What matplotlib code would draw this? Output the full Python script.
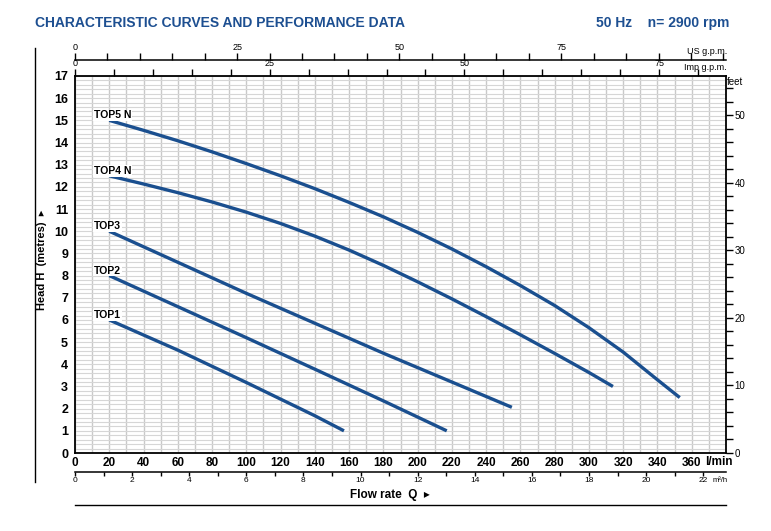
import numpy as np
import matplotlib
matplotlib.use('Agg')
import matplotlib.pyplot as plt
from matplotlib.lines import Line2D
from matplotlib.ticker import MultipleLocator, FixedLocator

plt.rcParams['font.family'] = ['Liberation Sans', 'DejaVu Sans']

# pump curves: flow in l/min, head in metres
top1_q = [20, 60, 100, 140, 157]
top1_h = [6.0, 4.64, 3.18, 1.68, 1.0]

top2_q = [20, 60, 100, 140, 180, 217]
top2_h = [8.0, 6.6, 5.2, 3.78, 2.35, 1.0]

top3_q = [20, 60, 100, 140, 180, 220, 255]
top3_h = [10.0, 8.6, 7.2, 5.85, 4.5, 3.2, 2.06]

top4_q = [20, 40, 60, 80, 100, 120, 140, 160, 180, 200, 220, 240, 260, 280, 300, 314]
top4_h = [12.5, 12.13, 11.74, 11.32, 10.86, 10.35, 9.78, 9.15, 8.46, 7.72, 6.95, 6.15,
          5.33, 4.49, 3.63, 3.0]

top5_q = [20, 40, 60, 80, 100, 120, 140, 160, 180, 200, 220, 240, 260, 280, 300, 320, 340, 353]
top5_h = [15.0, 14.55, 14.08, 13.58, 13.05, 12.5, 11.92, 11.3, 10.65, 9.95, 9.2, 8.4,
          7.55, 6.65, 5.65, 4.55, 3.3, 2.5]

curves = [('TOP1', top1_q, top1_h), ('TOP2', top2_q, top2_h), ('TOP3', top3_q, top3_h),
          ('TOP4 N', top4_q, top4_h), ('TOP5 N', top5_q, top5_h)]

blue = '#1a4f8f'
title_blue = '#1d4f91'
W, H = 771, 531

fig = plt.figure(figsize=(W / 100, H / 100), dpi=100)

def fx(px):
    return px / W

def fy(py):
    return 1 - py / H

# main plot area
ax = fig.add_axes([fx(75), fy(453), fx(726) - fx(75), fy(76) - fy(453)])
ax.set_xlim(0, 380)
ax.set_ylim(0, 17)
ax.xaxis.set_major_locator(FixedLocator(np.arange(0, 361, 20)))
ax.xaxis.set_minor_locator(MultipleLocator(10))
ax.yaxis.set_major_locator(MultipleLocator(1))
ax.yaxis.set_minor_locator(MultipleLocator(0.2))
ax.grid(True, which='both', axis='x', color='#c9c9c9', lw=1.0)
ax.grid(True, which='both', axis='y', color='#d6d6d6', lw=0.8)
ax.set_axisbelow(True)
ax.tick_params(which='both', length=0)
ax.tick_params(axis='x', labelsize=8.5, pad=3)
ax.tick_params(axis='y', labelsize=9, pad=5)
for lab in ax.get_xticklabels() + ax.get_yticklabels():
    lab.set_fontweight('bold')
for s in ax.spines.values():
    s.set_linewidth(1.3)

for name, q, h in curves:
    ax.plot(q, h, color=blue, lw=2.4, solid_capstyle='butt', solid_joinstyle='round', zorder=3)
    ax.text(11, h[0] + 0.22, name, fontsize=7.5, fontweight='bold', va='center', ha='left',
            bbox=dict(facecolor='white', edgecolor='none', pad=0.5), zorder=4)

fig.text(fx(705), fy(462), 'l/min', fontsize=8.5, fontweight='bold', va='center', ha='left')

# feet axis on the right
axr = ax.twinx()
axr.set_ylim(0, 17 / 0.3048)
axr.yaxis.set_major_locator(FixedLocator(np.arange(0, 56, 2)))
axr.set_yticklabels([str(v) if v % 10 == 0 else '' for v in range(0, 56, 2)])
axr.tick_params(axis='y', direction='out', length=5, width=1, labelsize=7, pad=1)
for s in axr.spines.values():
    s.set_visible(False)
fig.text(fx(727), fy(82), 'feet', fontsize=7, va='center', ha='left')

# imperial gpm on the top spine
axi = ax.twiny()
axi.set_xlim(0, 380 / 4.546)
axi.xaxis.set_major_locator(FixedLocator(np.arange(0, 81, 5)))
axi.set_xticklabels([str(v) if v in (0, 25, 50, 75) else '' for v in range(0, 81, 5)])
axi.tick_params(axis='x', direction='out', length=5, width=1, labelsize=6.5, pad=0.5)
for s in axi.spines.values():
    s.set_visible(False)
fig.text(fx(727), fy(67), 'Imp g.p.m.', fontsize=6.5, va='center', ha='right')

# US gpm axis above
axu = fig.add_axes([fx(75), fy(60), fx(726) - fx(75), 0])
axu.set_xlim(0, 380 / 3.785)
axu.patch.set_visible(False)
for k, s in axu.spines.items():
    s.set_visible(k == 'top')
axu.spines['top'].set_linewidth(1.1)
axu.set_yticks([])
axu.xaxis.set_ticks_position('top')
axu.xaxis.set_major_locator(FixedLocator(np.arange(0, 101, 5)))
axu.set_xticklabels([str(v) if v in (0, 25, 50, 75) else '' for v in range(0, 101, 5)])
axu.tick_params(axis='x', direction='out', length=5, width=1, labelsize=6.5, pad=0.5)
fig.text(fx(727), fy(51), 'US g.p.m.', fontsize=6.5, va='center', ha='right')

# m3/h axis below
axm = fig.add_axes([fx(75), fy(472), fx(726) - fx(75), 0])
axm.set_xlim(0, 380 * 0.06)
axm.patch.set_visible(False)
for k, s in axm.spines.items():
    s.set_visible(k == 'bottom')
axm.spines['bottom'].set_linewidth(1.1)
axm.set_yticks([])
axm.xaxis.set_major_locator(FixedLocator(np.arange(0, 23, 1)))
axm.set_xticklabels([str(v) if v % 2 == 0 else '' for v in range(0, 23)])
axm.tick_params(axis='x', direction='out', length=3, width=1, labelsize=6, pad=0.5)
fig.text(fx(713), fy(480), 'm³/h', fontsize=5.5, va='center', ha='left')

# titles and frame lines
fig.text(fx(35), fy(23), 'CHARACTERISTIC CURVES AND PERFORMANCE DATA', fontsize=10,
         fontweight='bold', color=title_blue, va='center', ha='left')
fig.text(fx(729), fy(23), '50 Hz    n= 2900 rpm', fontsize=10, fontweight='bold',
         color=title_blue, va='center', ha='right')
fig.text(fx(42), fy(260), 'Head H  (metres)  ▸', rotation=90, fontsize=8, fontweight='bold',
         va='center', ha='center')
fig.text(fx(390), fy(495), 'Flow rate  Q  ▸', fontsize=8.5, fontweight='bold', va='center', ha='center')

fig.add_artist(Line2D([fx(35), fx(35)], [fy(48), fy(482)], color='black', lw=1))
fig.add_artist(Line2D([fx(75), fx(726)], [fy(505), fy(505)], color='black', lw=1))

fig.savefig('out.png', dpi=100)
